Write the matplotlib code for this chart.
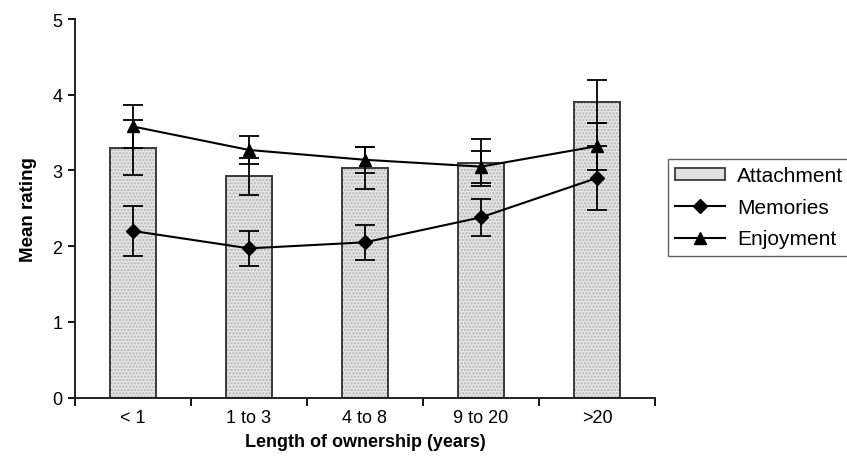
import numpy as np
import matplotlib
matplotlib.use("Agg")
import matplotlib.pyplot as plt
from matplotlib.patches import Patch
from matplotlib.lines import Line2D

plt.rcParams['font.family'] = ['Liberation Sans', 'DejaVu Sans']

# ---- data ----
categories = ["< 1", "1 to 3", "4 to 8", "9 to 20", ">20"]
attachment = [3.30, 2.92, 3.03, 3.10, 3.91]
attachment_err = [0.36, 0.24, 0.28, 0.31, 0.28]
memories = [2.20, 1.97, 2.05, 2.38, 2.90]
memories_err = [0.33, 0.23, 0.23, 0.24, 0.42]
enjoyment = [3.58, 3.27, 3.14, 3.05, 3.32]
enjoyment_err = [0.29, 0.18, 0.17, 0.21, 0.31]

x = np.arange(len(categories))

fig = plt.figure(figsize=(8.47, 4.60), dpi=100)
ax = fig.add_axes([75 / 847, 1 - 398.5 / 460, 580 / 847, 378.5 / 460])

# bars: stippled fill, then dark outline on top
ax.bar(x, attachment, width=0.405, color='#e4e4e4', edgecolor='#b4b4b4',
       hatch='.....', linewidth=0, zorder=1)
ax.bar(x, attachment, width=0.405, fill=False, edgecolor='#3a3a3a',
       linewidth=1.4, zorder=2)
ax.errorbar(x, attachment, yerr=attachment_err, fmt='none', ecolor='black',
            elinewidth=1.3, capsize=7, capthick=1.3, zorder=3)

# lines
ax.errorbar(x, memories, yerr=memories_err, color='black', marker='D',
            markersize=7, linewidth=1.5, elinewidth=1.3, capsize=7,
            capthick=1.3, zorder=4)
ax.errorbar(x, enjoyment, yerr=enjoyment_err, color='black', marker='^',
            markersize=9, linewidth=1.5, elinewidth=1.3, capsize=7,
            capthick=1.3, zorder=4)

ax.set_xlim(-0.5, 4.5)
ax.set_ylim(0, 5)
ax.set_yticks([0, 1, 2, 3, 4, 5])
ax.set_xticks(x)
ax.set_xticklabels(categories)
ax.set_xticks(np.arange(-0.5, 5, 1), minor=True)
ax.tick_params(axis='x', which='major', length=0, labelsize=13, pad=8)
ax.tick_params(axis='x', which='minor', length=5.5, width=1.3, direction='out')
ax.tick_params(axis='y', length=5, width=1.3, labelsize=13, pad=4)

for s in ['top', 'right']:
    ax.spines[s].set_visible(False)
for s in ['left', 'bottom']:
    ax.spines[s].set_linewidth(1.4)
    ax.spines[s].set_color('#222222')

ax.set_xlabel("Length of ownership (years)", fontsize=13, fontweight='bold',
              labelpad=5)
ax.set_ylabel("Mean rating", fontsize=13.5, fontweight='bold', labelpad=11)

handles = [
    Patch(facecolor='#e0e0e0', edgecolor='#3a3a3a', linewidth=1.3),
    Line2D([], [], color='black', marker='D', markersize=7, linewidth=1.5),
    Line2D([], [], color='black', marker='^', markersize=9, linewidth=1.5),
]
fig.legend(handles, ["Attachment", "Memories", "Enjoyment"],
           loc='center left', bbox_to_anchor=(668 / 847, 1 - 208.5 / 460),
           fontsize=15, frameon=True, fancybox=False, edgecolor='#333333',
           handlelength=2.4, handleheight=0.45, labelspacing=0.6,
           borderpad=0.35, handletextpad=0.55, borderaxespad=0)

fig.savefig("out.png", dpi=100)
